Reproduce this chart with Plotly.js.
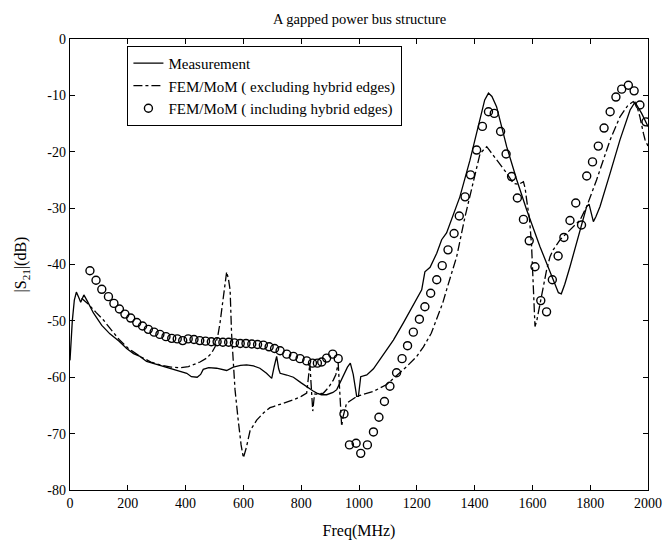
<!DOCTYPE html>
<html><head><meta charset="utf-8">
<script src="https://cdn.plot.ly/plotly-3.0.1.min.js"></script>
<style>html,body{margin:0;padding:0;background:#fff}#c{width:666px;height:545px}</style>
</head><body><div id="c"></div>
<script>
const measF = [0,8,15,22,30,37,43,48,60,81,110,138,170,196,220,242,265,311,369,404,420,440,452,461,480,507,542,565,590,611,635,657,680,698,707,715,722,727,750,773,800,819,840,854,870,888,910,923,934,950,960,970,980,992,998,1006,1027,1050,1084,1119,1153,1188,1217,1228,1246,1269,1286,1303,1349,1384,1419,1435,1448,1460,1476,1511,1546,1580,1626,1672,1690,1700,1712,1730,1765,1788,1796,1811,1820,1834,1869,1903,1938,1955,1978,2000];
const measDB = [-57,-50,-46.3,-44.9,-45.8,-46.7,-46,-45.4,-46.5,-48.6,-50.8,-52.3,-53.6,-54.9,-55.8,-56.3,-57.2,-57.9,-58.7,-59.3,-59.9,-60,-59.5,-58.6,-58.3,-58.4,-58.8,-58.2,-57.9,-57.8,-58,-58.4,-59.3,-60.2,-58,-56.3,-58.5,-59.3,-59.6,-60,-61,-61.7,-62.4,-62.8,-63.1,-63.1,-62.7,-62.2,-61,-59.5,-58.2,-57.5,-59.5,-63.4,-63.4,-59.9,-59.6,-58.5,-56,-53.4,-50.4,-47.2,-44.5,-41.3,-40.5,-38,-35.6,-34.4,-28,-21.5,-13.8,-10.8,-9.6,-10.2,-12,-19.1,-25,-30.3,-36.8,-42.7,-45,-45.2,-43.5,-40.4,-33.9,-29.7,-29.3,-32.4,-31.5,-29.7,-23.8,-17.9,-12.6,-11.2,-13.2,-15.5];

const exclF = [40,63,90,115,138,170,200,242,280,311,350,381,410,427,450,473,490,502,512,519,525,531,537,542,548,554,559,565,571,582,592,600,610,623,646,670,692,704,740,773,800,819,825,830,834,840,846,860,877,895,911,920,928,932,936,940,945,957,992,1050,1096,1130,1165,1200,1223,1250,1269,1290,1303,1320,1338,1367,1396,1419,1442,1460,1476,1511,1534,1552,1569,1575,1580,1590,1597,1603,1609,1615,1626,1649,1661,1672,1696,1730,1765,1788,1822,1869,1903,1930,1949,1962,1972,1984,1990,2000];
const exclDB = [-46,-47,-48.5,-49.8,-51.3,-53.3,-54.8,-56.3,-57.3,-57.8,-58.2,-58.3,-58.1,-57.8,-57.3,-56.6,-55.7,-54.6,-52.5,-50.4,-48,-45.1,-42.5,-41.3,-42.5,-44.5,-52.2,-57.5,-62.2,-67.6,-72,-74.3,-72.5,-69.5,-67.6,-66.3,-65.4,-65.2,-64.6,-64,-63.4,-62.8,-60,-57.5,-61,-66,-63,-63,-62.8,-61.8,-60.5,-59.5,-57.5,-62,-67,-68.7,-67,-64.6,-63.4,-62.5,-61.3,-59.8,-58.1,-56.3,-54.6,-52.2,-49.8,-46.8,-44.5,-41.5,-38.6,-31.5,-25,-20.3,-19.1,-20.3,-21.5,-23.8,-25.6,-25.8,-25.3,-26.5,-28.5,-32,-36.5,-44,-51,-50,-47,-41,-38.6,-37.4,-35.6,-33.9,-32.1,-29.7,-25,-17.9,-13.8,-11.8,-11.1,-12,-13.8,-16.7,-17.9,-19];

const inclF = [69,90,110,133,152,171,190,210,231,251,271,291,311,332,352,371,390,409,429,449,469,489,509,529,549,569,589,609,629,649,669,689,708,727,750,773,796,819,839,856,871,888,909,928,948,967,990,1006,1029,1050,1069,1088,1107,1130,1149,1168,1188,1209,1228,1248,1269,1288,1308,1329,1347,1367,1386,1407,1427,1448,1468,1490,1509,1528,1548,1569,1589,1609,1629,1649,1669,1689,1709,1730,1750,1770,1788,1808,1828,1848,1869,1889,1909,1932,1952,1972,1993];
const inclDB = [-41.1,-42.8,-44.4,-45.7,-46.9,-47.9,-48.8,-49.5,-50.3,-50.9,-51.5,-52,-52.4,-52.8,-53.1,-53.2,-53.5,-53.2,-53.3,-53.5,-53.6,-53.7,-53.7,-53.8,-53.8,-53.9,-54,-54,-54.1,-54.2,-54.3,-54.6,-54.9,-55.3,-55.9,-56.3,-56.7,-57.1,-57.5,-57.5,-57.3,-56.6,-55.9,-56.7,-66.5,-72,-71.7,-73.5,-72,-69.7,-67.1,-64.3,-61.6,-59.2,-56.7,-54.4,-52,-49.7,-47.5,-45.1,-42.7,-40.2,-37.4,-34.5,-31.4,-28,-24.1,-19.7,-15.5,-12.9,-13.2,-16.4,-20.4,-24.4,-28.2,-32,-35.8,-40.4,-46.4,-48.4,-42.7,-38.5,-35.2,-32.2,-29.1,-33,-24.3,-21.8,-19,-15.8,-12.9,-10.3,-8.9,-8.2,-9.2,-11.7,-14.7];

const xTicks = [0,200,400,600,800,1000,1200,1400,1600,1800,2000];
const yTicks = [0,-10,-20,-30,-40,-50,-60,-70,-80];

const FONT = 'Liberation Serif, Times New Roman, serif';
const traces = [
  {x: measF, y: measDB, type:'scatter', mode:'lines', name:'Measurement',
   line:{color:'#000', width:1.3}},
  {x: exclF, y: exclDB, type:'scatter', mode:'lines', name:'FEM/MoM ( excluding hybrid edges)',
   line:{color:'#000', width:1.3, dash:'dashdot'}},
  {x: inclF, y: inclDB, type:'scatter', mode:'markers', name:'FEM/MoM ( including hybrid edges)',
   marker:{symbol:'circle-open', size:8, color:'#000', line:{width:1.4, color:'#000'}}}
];
const axisCommon = {showgrid:false, zeroline:false, showline:true, linecolor:'#000', linewidth:1.2,
  mirror:'ticks', ticks:'inside', ticklen:5, tickcolor:'#000', tickfont:{family:FONT, size:14, color:'#000'}};
const layout = {
  width:666, height:545,
  margin:{l:70, r:18, t:39, b:55},
  paper_bgcolor:'#fff', plot_bgcolor:'#fff',
  font:{family:FONT, color:'#000'},
  title:{text:'A gapped power bus structure', font:{family:FONT, size:14.5, color:'#000'}, x:0.54, xanchor:'center', y:0.975, yanchor:'top'},
  xaxis:Object.assign({}, axisCommon, {range:[0,2000], tickvals:xTicks, ticktext:xTicks.map(String),
    title:{text:'Freq(MHz)', font:{family:FONT, size:16, color:'#000'}, standoff:14}}),
  yaxis:Object.assign({}, axisCommon, {range:[-80,0], tickvals:yTicks, ticktext:yTicks.map(String),
    title:{text:'|S<sub>21</sub>|(dB)', font:{family:FONT, size:16, color:'#000'}, standoff:16}}),
  showlegend:true,
  legend:{x:0.099, y:0.985, xanchor:'left', yanchor:'top', bgcolor:'#fff', bordercolor:'#000', borderwidth:1.2,
    font:{family:FONT, size:15, color:'#000'}, tracegroupgap:2, itemwidth:30}
};
Plotly.newPlot('c', traces, layout, {displayModeBar:false, staticPlot:true});
</script></body></html>
